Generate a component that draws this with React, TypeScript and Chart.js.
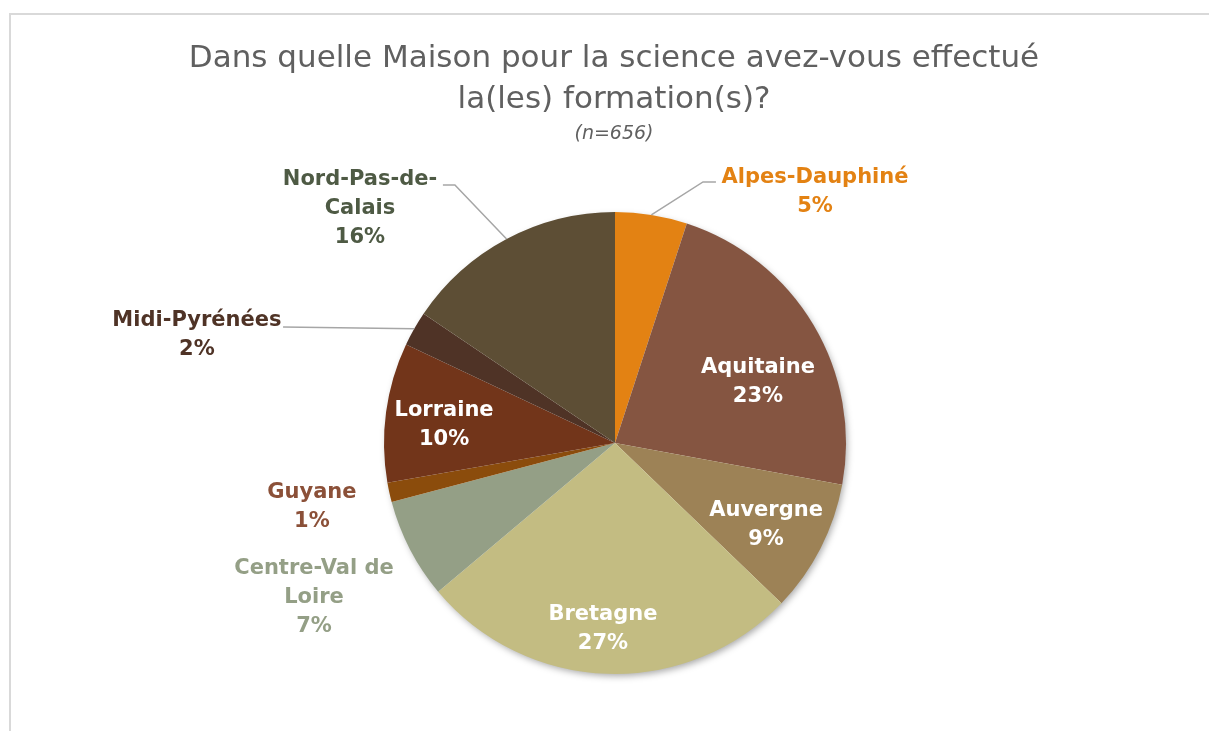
import React, { useEffect, useRef } from "react";
import { Chart, registerables } from "chart.js";

Chart.register(...registerables);

// ---- Data ----
const categories = [
  "Alpes-Dauphiné",
  "Aquitaine",
  "Auvergne",
  "Bretagne",
  "Centre-Val de Loire",
  "Guyane",
  "Lorraine",
  "Midi-Pyrénées",
  "Nord-Pas-de-Calais",
];
const counts = [33, 150, 61, 175, 46, 9, 64, 16, 102];
const labelLines = [
  ["Alpes-Dauphiné"],
  ["Aquitaine"],
  ["Auvergne"],
  ["Bretagne"],
  ["Centre-Val de", "Loire"],
  ["Guyane"],
  ["Lorraine"],
  ["Midi-Pyrénées"],
  ["Nord-Pas-de-", "Calais"],
];
const titleLines = ["Dans quelle Maison pour la science avez-vous effectué", "la(les) formation(s)?"];
const subtitleText = "(n=656)";

// ---- Styles ----
const sliceColors = [
  "#E38213",
  "#855541",
  "#9D8256",
  "#C3BC82",
  "#949F86",
  "#8B4C0C",
  "#72351A",
  "#4F3326",
  "#5D4E35",
];
const outsideTextColors: Record<number, string> = {
  0: "#E38213",
  4: "#949F86",
  5: "#8B5038",
  7: "#4F3326",
  8: "#4E5A44",
};

// label placement, in units of the pie radius relative to the pie center
type LabelPos = { ax: number; ay: number; leader?: [number, number][] };
const labelPos: LabelPos[] = [
  { ax: 0.866, ay: -1.087, leader: [[0.381, -1.13], [0.437, -1.13]] },
  { ax: 0.619, ay: -0.264 },
  { ax: 0.654, ay: 0.355 },
  { ax: -0.052, ay: 0.805 },
  { ax: -1.303, ay: 0.671 },
  { ax: -1.312, ay: 0.277 },
  { ax: -0.74, ay: -0.078 },
  { ax: -1.81, ay: -0.468, leader: [[-1.437, -0.502]] },
  { ax: -1.104, ay: -1.013, leader: [[-0.693, -1.117], [-0.745, -1.117]] },
];

const LABEL_FONT = "bold 21px 'DejaVu Sans'";
const LINE_H = 29;

const decorPlugin = {
  id: "decor",
  beforeDraw(chart: any) {
    const ctx = chart.ctx;
    ctx.save();
    // frame
    ctx.strokeStyle = "#D9D9D9";
    ctx.lineWidth = 2;
    ctx.beginPath();
    ctx.moveTo(10, chart.height + 5);
    ctx.lineTo(10, 14);
    ctx.lineTo(chart.width + 5, 14);
    ctx.stroke();
    // title
    ctx.fillStyle = "#606060";
    ctx.textAlign = "center";
    ctx.textBaseline = "alphabetic";
    ctx.font = "normal 31px 'DejaVu Sans'";
    ctx.fillText(titleLines[0], 614, 67);
    ctx.fillText(titleLines[1], 614, 108);
    ctx.font = "italic normal 19px 'DejaVu Sans'";
    ctx.fillText(subtitleText, 614, 139);
    ctx.restore();
  },
  beforeDatasetsDraw(chart: any) {
    const meta = chart.getDatasetMeta(0);
    const arc = meta.data[0];
    if (!arc) return;
    const ctx = chart.ctx;
    ctx.save();
    ctx.shadowColor = "rgba(0,0,0,0.35)";
    ctx.shadowBlur = 7;
    ctx.shadowOffsetX = 2;
    ctx.shadowOffsetY = 3;
    ctx.fillStyle = "#ffffff";
    ctx.beginPath();
    ctx.arc(arc.x, arc.y, arc.outerRadius - 1, 0, Math.PI * 2);
    ctx.fill();
    ctx.restore();
  },
  afterDatasetsDraw(chart: any) {
    const meta = chart.getDatasetMeta(0);
    const ctx = chart.ctx;
    const total = counts.reduce((a, b) => a + b, 0);
    ctx.save();
    meta.data.forEach((el: any, i: number) => {
      const { x: cx, y: cy, outerRadius: R, startAngle, endAngle } = el;
      const pos = labelPos[i];
      const lx = cx + pos.ax * R;
      const ly = cy + pos.ay * R;
      // leader line
      if (pos.leader) {
        const mid = (startAngle + endAngle) / 2;
        ctx.strokeStyle = "#A6A6A6";
        ctx.lineWidth = 1.5;
        ctx.beginPath();
        ctx.moveTo(cx + Math.cos(mid) * R, cy + Math.sin(mid) * R);
        pos.leader.forEach(([px, py]) => ctx.lineTo(cx + px * R, cy + py * R));
        ctx.stroke();
      }
      const pct = Math.round((counts[i] / total) * 100) + "%";
      const lines = [...labelLines[i], pct];
      ctx.font = LABEL_FONT;
      ctx.textAlign = "center";
      ctx.textBaseline = "middle";
      ctx.fillStyle = outsideTextColors[i] ?? "#FFFFFF";
      lines.forEach((t, k) => {
        ctx.fillText(t, lx, ly + (k - (lines.length - 1) / 2) * LINE_H);
      });
    });
    ctx.restore();
  },
};

export default function App() {
  const ref = useRef<HTMLCanvasElement>(null);
  useEffect(() => {
    if (!ref.current) return;
    const chart = new Chart(ref.current, {
      type: "pie",
      data: {
        labels: categories,
        datasets: [
          {
            data: counts,
            backgroundColor: sliceColors,
            borderWidth: 0,
            hoverOffset: 0,
          },
        ],
      },
      options: {
        animation: false,
        responsive: true,
        maintainAspectRatio: false,
        layout: { padding: { left: 384, right: 363, top: 212, bottom: 57 } },
        plugins: {
          legend: { display: false },
          title: { display: false },
          tooltip: { enabled: false },
        },
      },
      plugins: [decorPlugin],
    });
    return () => chart.destroy();
  }, []);
  return (
    <div style={{ position: "fixed", left: 0, top: 0, width: 1209, height: 731, background: "#fff" }}>
      <canvas ref={ref} />
    </div>
  );
}
